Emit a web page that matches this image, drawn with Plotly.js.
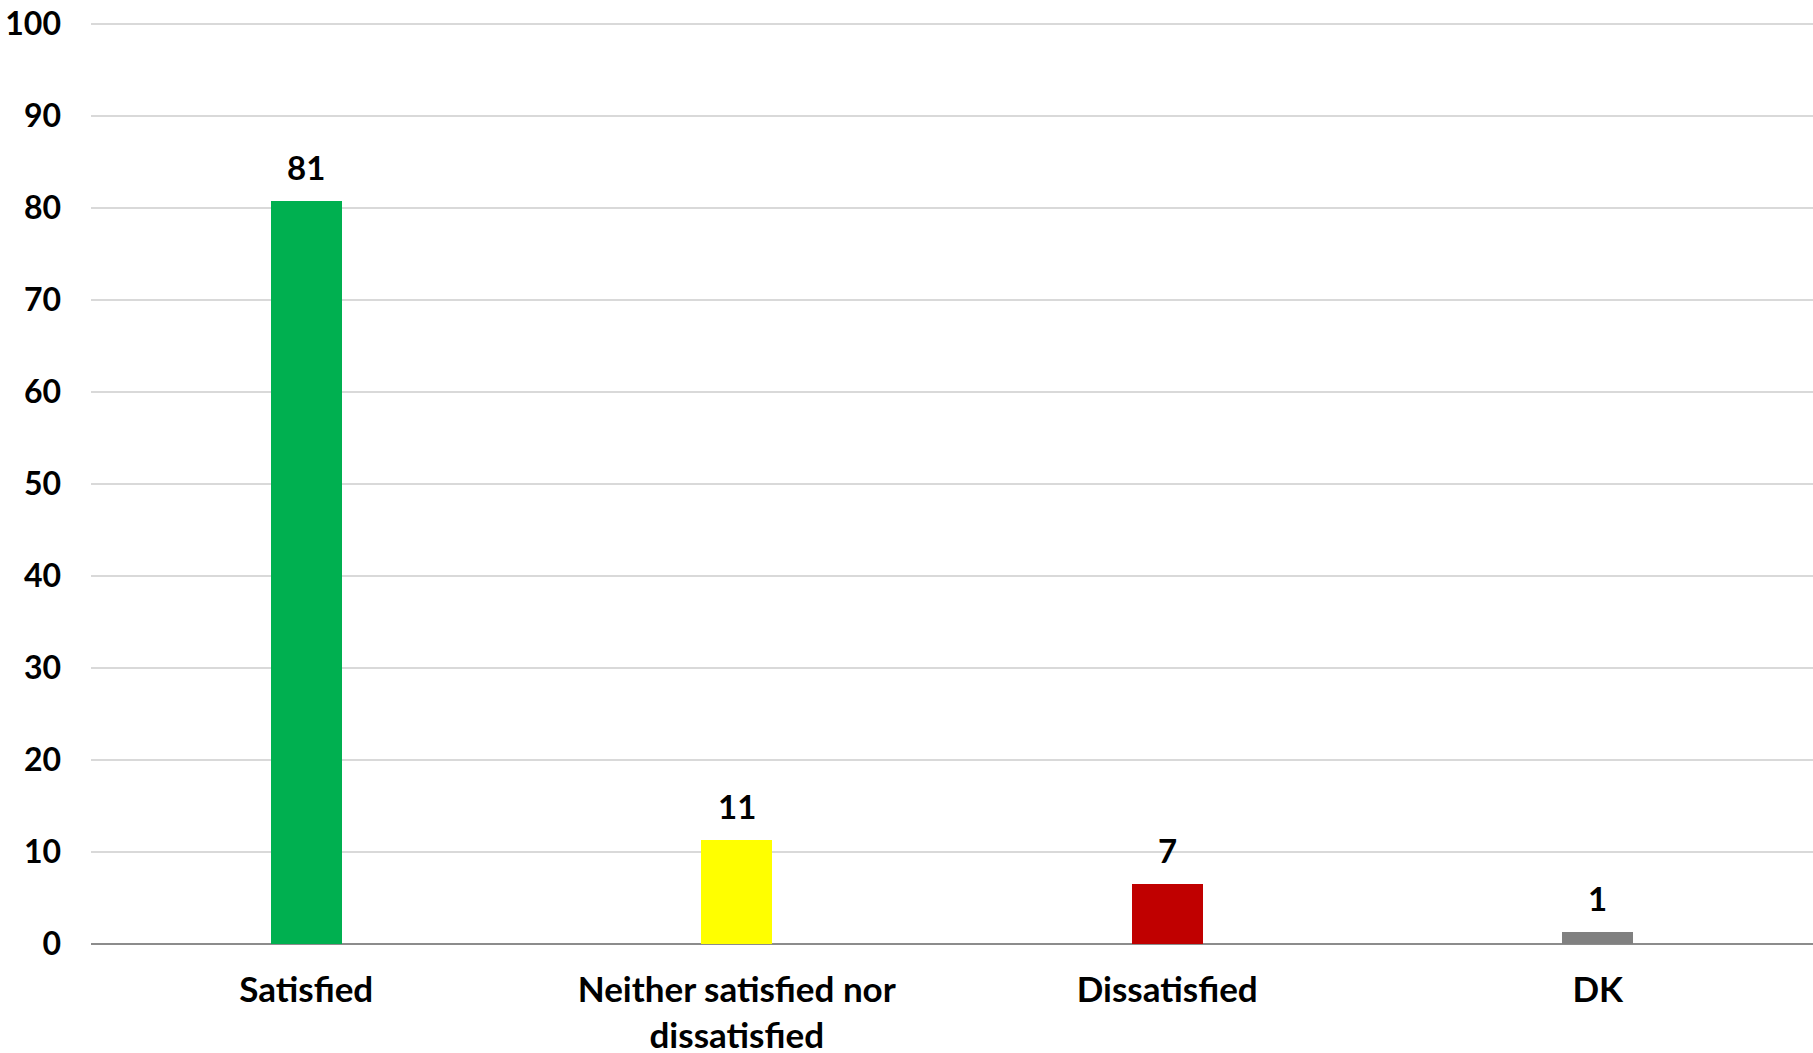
<!DOCTYPE html>
<html>
<head>
<meta charset="utf-8">
<script src="https://cdn.plot.ly/plotly-3.0.1.min.js"></script>
<style>html,body{margin:0;padding:0;background:#fff;}#chart{width:1813px;height:1053px;}</style>
</head>
<body>
<div id="chart"></div>
<script>
const categories = ["Satisfied", "Neither satisfied nor<br>dissatisfied", "Dissatisfied", "DK"];
const values = [80.8, 11.3, 6.5, 1.3];
const valueLabels = ["81", "11", "7", "1"];
const barColors = ["#00b050", "#ffff00", "#c00000", "#808080"];
const yTicks = [0, 10, 20, 30, 40, 50, 60, 70, 80, 90, 100];

const font = {family: "Lato, 'Open Sans', sans-serif", size: 33, color: "#000000", weight: "bold"};
const yFont = {family: "Lato, 'Open Sans', sans-serif", size: 32, color: "#000000", weight: "bold"};
const xFont = {family: "Lato, 'Open Sans', sans-serif", size: 35, color: "#000000", weight: "bold"};

const trace = {
  type: "bar",
  x: categories,
  y: values,
  marker: {color: barColors},
  width: 0.165,
  hoverinfo: "skip"
};

const annotations = categories.map((c, i) => ({
  x: c, y: values[i], xref: "x", yref: "y",
  text: valueLabels[i], showarrow: false,
  yanchor: "bottom", yshift: 12,
  font: font
}));

const layout = {
  width: 1813, height: 1053,
  margin: {l: 91, r: 0, t: 23, b: 109, pad: 0},
  paper_bgcolor: "#ffffff", plot_bgcolor: "#ffffff",
  showlegend: false,
  bargap: 0,
  font: font,
  xaxis: {
    type: "category",
    tickfont: xFont,
    showgrid: false,
    showline: false,
    ticks: "",
    zeroline: false,
    ticklabelstandoff: 22,
    ticklabeloverflow: "allow",
    fixedrange: true
  },
  yaxis: {
    range: [0, 100.12],
    tickvals: yTicks,
    ticktext: yTicks.map(String),
    tickfont: yFont,
    showgrid: true,
    gridcolor: "#d9d9d9",
    gridwidth: 1.5,
    zeroline: true,
    zerolinecolor: "#8c8c8c",
    zerolinewidth: 2,
    showline: false,
    ticks: "",
    ticklabelstandoff: 29,
    ticklabeloverflow: "allow",
    fixedrange: true
  },
  annotations: annotations
};

Plotly.newPlot("chart", [trace], layout, {displayModeBar: false, staticPlot: true});
</script>
</body>
</html>
